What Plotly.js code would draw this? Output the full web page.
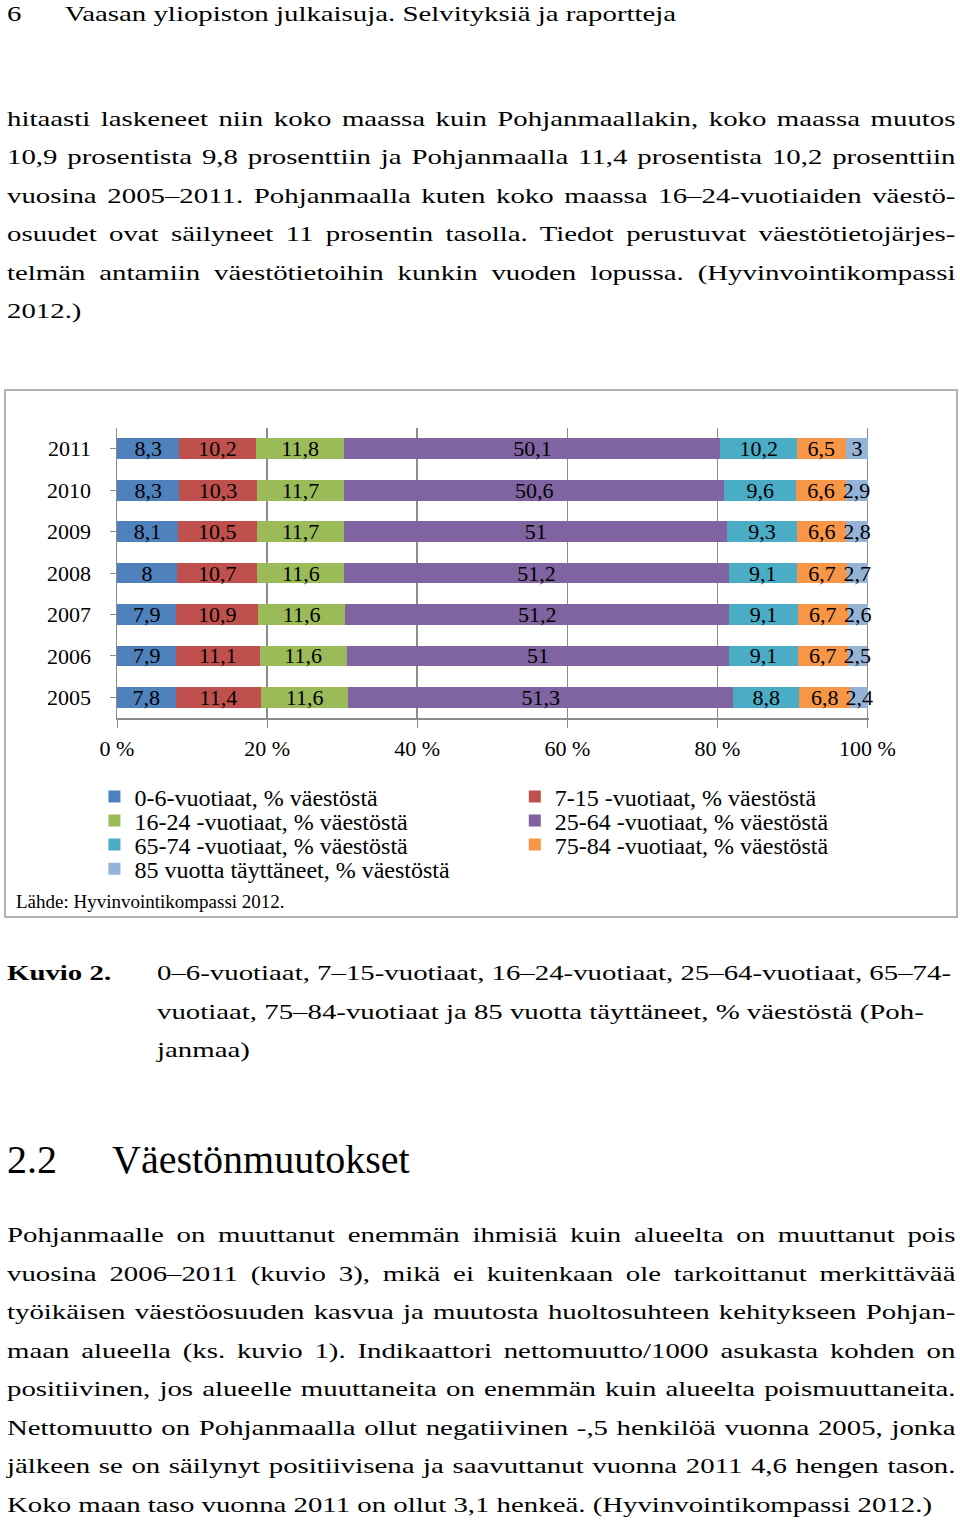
<!DOCTYPE html>
<html>
<head>
<meta charset="utf-8">
<script src="https://cdn.plot.ly/plotly-3.0.1.min.js"></script>
<style>
  body { margin: 0; width: 960px; height: 1523px; background: #fff; position: relative; overflow: hidden;
         font-family: "Liberation Serif", "Times New Roman", serif; color: #000; }
  /* the printed page text is wider than plain Times, so every line is stretched */
  .ln, .cap { position: absolute; height: 38px; line-height: 38px; font-size: 22px; white-space: nowrap;
              transform: scaleX(1.31); transform-origin: 0 0; }
  .ln { left: 7px; width: 724px; text-align: justify; text-align-last: justify; }
  .ln.last { text-align: left; text-align-last: left; }
  .cap { left: 157px; }
  #box { position: absolute; left: 4px; top: 389px; width: 950px; height: 525px; border: 2px solid #b3b3b3; }
  #chart { position: absolute; left: 0; top: 0; width: 950px; height: 525px; }
  #source { position: absolute; left: 10px; top: 500px; font-size: 19px; }
</style>
</head>
<body>
<div class="ln last" style="top:-5px">6<span style="position:absolute;left:44px">Vaasan yliopiston julkaisuja. Selvityksiä ja raportteja</span></div>
<div id="p1"></div>
<div id="box">
  <div id="chart"></div>
  <div id="source">Lähde: Hyvinvointikompassi 2012.</div>
</div>
<div class="ln last" style="top:954px;font-weight:bold">Kuvio 2.</div>
<div id="cap"></div>
<div style="position:absolute;left:7px;top:1136px;height:48px;line-height:48px;font-size:40px;white-space:nowrap">2.2<span style="position:absolute;left:105px">Väestönmuutokset</span></div>
<div id="p2"></div>
<script>
const years = ["2005", "2006", "2007", "2008", "2009", "2010", "2011"]

const seriesNames = [
  "0-6-vuotiaat, % väestöstä",
  "7-15 -vuotiaat, % väestöstä",
  "16-24 -vuotiaat, % väestöstä",
  "25-64 -vuotiaat, % väestöstä",
  "65-74 -vuotiaat, % väestöstä",
  "75-84 -vuotiaat, % väestöstä",
  "85 vuotta täyttäneet, % väestöstä",
]

// values per age group, same order as years (2005 -> 2011)
const age0_6 = [7.8, 7.9, 7.9, 8, 8.1, 8.3, 8.3]
const age7_15 = [11.4, 11.1, 10.9, 10.7, 10.5, 10.3, 10.2]
const age16_24 = [11.6, 11.6, 11.6, 11.6, 11.7, 11.7, 11.8]
const age25_64 = [51.3, 51, 51.2, 51.2, 51, 50.6, 50.1]
const age65_74 = [8.8, 9.1, 9.1, 9.1, 9.3, 9.6, 10.2]
const age75_84 = [6.8, 6.7, 6.7, 6.7, 6.6, 6.6, 6.5]
const age85 = [2.4, 2.5, 2.6, 2.7, 2.8, 2.9, 3]

const colors = ["#4F81BD", "#C0504D", "#9BBB59", "#8064A2", "#4BACC6", "#F79646", "#95B3D7"]

const xTicks = [0, 20, 40, 60, 80, 100]
const xTickText = xTicks.map((v) => v + " %")

// page text, one entry per printed line
const p1Lines = [
  "hitaasti laskeneet niin koko maassa kuin Pohjanmaallakin, koko maassa muutos",
  "10,9 prosentista 9,8 prosenttiin ja Pohjanmaalla 11,4 prosentista 10,2 prosenttiin",
  "vuosina 2005–2011. Pohjanmaalla kuten koko maassa 16–24-vuotiaiden väestö-",
  "osuudet ovat säilyneet 11 prosentin tasolla. Tiedot perustuvat väestötietojärjes-",
  "telmän antamiin väestötietoihin kunkin vuoden lopussa. (Hyvinvointikompassi",
  "2012.)",
]
const capLines = [
  "0–6-vuotiaat, 7–15-vuotiaat, 16–24-vuotiaat, 25–64-vuotiaat, 65–74-",
  "vuotiaat, 75–84-vuotiaat ja 85 vuotta täyttäneet, % väestöstä (Poh-",
  "janmaa)",
]
const p2Lines = [
  "Pohjanmaalle on muuttanut enemmän ihmisiä kuin alueelta on muuttanut pois",
  "vuosina 2006–2011 (kuvio 3), mikä ei kuitenkaan ole tarkoittanut merkittävää",
  "työikäisen väestöosuuden kasvua ja muutosta huoltosuhteen kehitykseen Pohjan-",
  "maan alueella (ks. kuvio 1). Indikaattori nettomuutto/1000 asukasta kohden on",
  "positiivinen, jos alueelle muuttaneita on enemmän kuin alueelta poismuuttaneita.",
  "Nettomuutto on Pohjanmaalla ollut negatiivinen -,5 henkilöä vuonna 2005, jonka",
  "jälkeen se on säilynyt positiivisena ja saavuttanut vuonna 2011 4,6 hengen tason.",
  "Koko maan taso vuonna 2011 on ollut 3,1 henkeä. (Hyvinvointikompassi 2012.)",
]

function writeLines(id, lines, firstCenter, step, cls) {
  const holder = document.getElementById(id)
  lines.forEach((txt, i) => {
    const d = document.createElement("div")
    d.className = cls + (cls === "ln" && i === lines.length - 1 ? " last" : "")
    d.style.top = Math.round(firstCenter + i * step - 19) + "px"
    d.textContent = txt
    holder.appendChild(d)
  })
}
writeLines("p1", p1Lines, 119, 38.4, "ln")
writeLines("cap", capLines, 973, 38.5, "cap")
writeLines("p2", p2Lines, 1235, 38.5, "ln")

const serif = "Liberation Serif, Times New Roman, serif"
const allSeries = [age0_6, age7_15, age16_24, age25_64, age65_74, age75_84, age85]

// legend entries: two columns, four rows (paper coordinates)
const legendX = [-0.03, 0.529]
const legendY = [-0.272, -0.355, -0.438, -0.521]

const data = allSeries.map((vals, i) => ({
  type: "bar",
  orientation: "h",
  y: years,
  x: vals,
  name: seriesNames[i],
  legend: i === 0 ? "legend" : "legend" + (i + 1),
  marker: { color: colors[i], line: { width: 0 } },
  text: vals.map((v) => String(v).replace(".", ",")),
  textposition: "inside",
  insidetextanchor: "middle",
  textangle: 0,
  constraintext: "none",
  cliponaxis: false,
  textfont: { family: serif, size: 22, color: "#000" },
  hoverinfo: "skip",
}))

const layout = {
  width: 950,
  height: 525,
  margin: { l: 111, r: 87, t: 37, b: 198 },
  paper_bgcolor: "rgba(0,0,0,0)",
  plot_bgcolor: "rgba(0,0,0,0)",
  barmode: "stack",
  bargap: 0.5,
  font: { family: serif, size: 22, color: "#000" },
  xaxis: {
    range: [0, 100.2],
    tickvals: xTicks,
    ticktext: xTickText,
    showgrid: true,
    gridcolor: "#8c8c8c",
    gridwidth: 1.5,
    zeroline: false,
    showline: true,
    linecolor: "#8c8c8c",
    linewidth: 1.5,
    ticks: "outside",
    ticklen: 8,
    tickcolor: "#8c8c8c",
    ticklabelstandoff: 2,
    tickfont: { family: serif, size: 22, color: "#000" },
  },
  yaxis: {
    showline: true,
    linecolor: "#8c8c8c",
    linewidth: 1.5,
    ticks: "outside",
    tickson: "boundaries",
    ticklen: 6,
    tickcolor: "#8c8c8c",
    ticklabelstandoff: 14,
    showgrid: false,
    tickfont: { family: serif, size: 22, color: "#000" },
  },
  showlegend: true,
}

seriesNames.forEach((name, i) => {
  const key = i === 0 ? "legend" : "legend" + (i + 1)
  layout[key] = {
    orientation: "h",
    x: legendX[i % 2],
    xanchor: "left",
    y: legendY[Math.floor(i / 2)],
    yanchor: "middle",
    bgcolor: "rgba(0,0,0,0)",
    font: { family: serif, size: 24, color: "#000" },
    itemclick: false,
    itemdoubleclick: false,
  }
})

Plotly.newPlot("chart", data, layout, { displayModeBar: false, staticPlot: true })
</script>
</body>
</html>
